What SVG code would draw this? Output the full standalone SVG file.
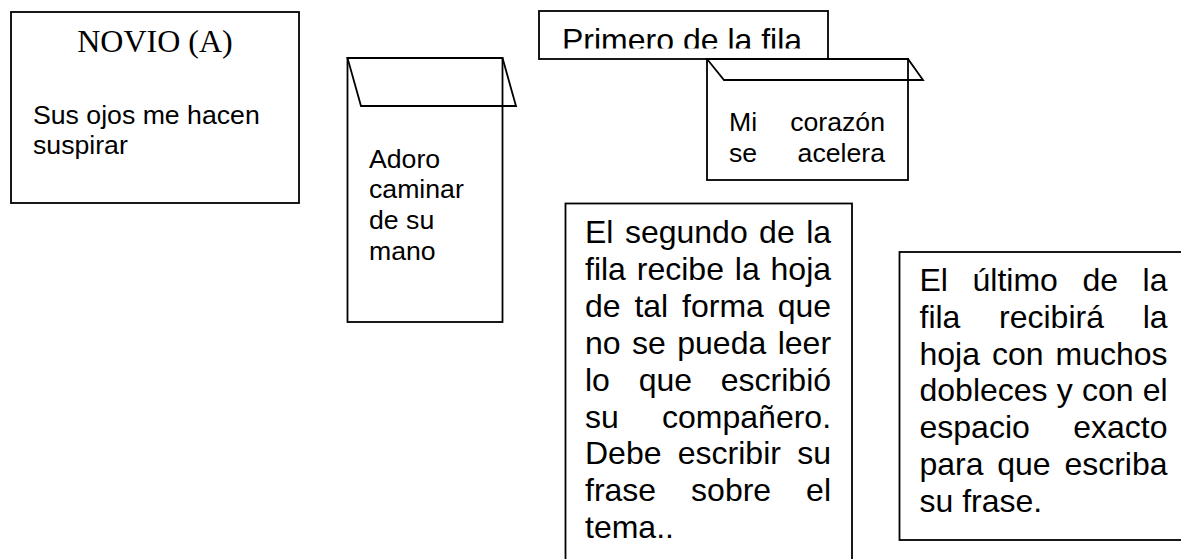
<svg xmlns="http://www.w3.org/2000/svg" width="1181" height="559" viewBox="0 0 1181 559">
<style>
.box{fill:#fff;stroke:#000;stroke-width:1.8}
.flap{fill:none;stroke:#000;stroke-width:1.8;stroke-linejoin:miter}
.t{font-family:"Liberation Sans",Arial,sans-serif;fill:#000}
.s20{font-size:26.67px}
.s24{font-size:32px}
.tm{font-family:"Liberation Serif","Times New Roman",serif;font-size:32px;fill:#000}
</style>
<defs>
<clipPath id="clipPrimero"><rect x="539" y="11" width="289" height="37.5"/></clipPath>
</defs>
<rect width="1181" height="559" fill="#fff"/>
<g id="novio">
<rect class="box" x="11" y="12" width="288" height="191"/>
<text class="tm" x="155" y="52" text-anchor="middle">NOVIO (A)</text>
<text class="t s20" x="33" y="123.5">Sus ojos me hacen</text>
<text class="t s20" x="33" y="154">suspirar</text>
</g>
<g id="adoro">
<rect class="box" x="347.5" y="58" width="155" height="264"/>
<path class="flap" d="M347.5,58 L502.5,58 L516,106 L361,106 Z"/>
<text class="t s20" x="369" y="167.5">Adoro</text>
<text class="t s20" x="369" y="198.2">caminar</text>
<text class="t s20" x="369" y="228.9">de su</text>
<text class="t s20" x="369" y="259.6">mano</text>
</g>
<g id="primero">
<rect class="box" x="539" y="11" width="289" height="48"/>
<text class="t s24" x="562" y="51" clip-path="url(#clipPrimero)">Primero de la fila</text>
</g>
<g id="corazon">
<rect class="box" x="707" y="59" width="201" height="121"/>
<path class="flap" d="M707,59 L908,59 L923,80 L724,80 Z"/>
<text class="t s20" x="729" y="131">Mi</text>
<text class="t s20" x="885" y="131" text-anchor="end">corazón</text>
<text class="t s20" x="729" y="161.7">se</text>
<text class="t s20" x="885" y="161.7" text-anchor="end">acelera</text>
</g>
<g id="segundo">
<rect class="box" x="565.5" y="203.5" width="286.5" height="380"/>
<text class="t s24" x="585" y="243.3" word-spacing="2.55">El segundo de la</text>
<text class="t s24" x="585" y="280.1" word-spacing="1.97">fila recibe la hoja</text>
<text class="t s24" x="585" y="317" word-spacing="4.93">de tal forma que</text>
<text class="t s24" x="585" y="353.8" word-spacing="2.55">no se pueda leer</text>
<text class="t s24" x="585" y="390.7" word-spacing="19.85">lo que escribió</text>
<text class="t s24" x="585" y="427.5" word-spacing="34.35">su compañero.</text>
<text class="t s24" x="585" y="464.4" word-spacing="7.41">Debe escribir su</text>
<text class="t s24" x="585" y="501.2" word-spacing="26.07">frase sobre el</text>
<text class="t s24" x="585" y="538">tema..</text>
</g>
<g id="ultimo">
<rect class="box" x="899.5" y="252" width="290" height="288"/>
<text class="t s24" x="919.5" y="291.3" word-spacing="15.68">El último de la</text>
<text class="t s24" x="919.5" y="328" word-spacing="29.76">fila recibirá la</text>
<text class="t s24" x="919.5" y="364.7" word-spacing="3.05">hoja con muchos</text>
<text class="t s24" x="919.5" y="401.4" word-spacing="0.26">dobleces y con el</text>
<text class="t s24" x="919.5" y="438.1" word-spacing="34.56">espacio exacto</text>
<text class="t s24" x="919.5" y="474.8" word-spacing="4.83">para que escriba</text>
<text class="t s24" x="919.5" y="511.5">su frase.</text>
</g>
<g id="connectors"></g>
</svg>
